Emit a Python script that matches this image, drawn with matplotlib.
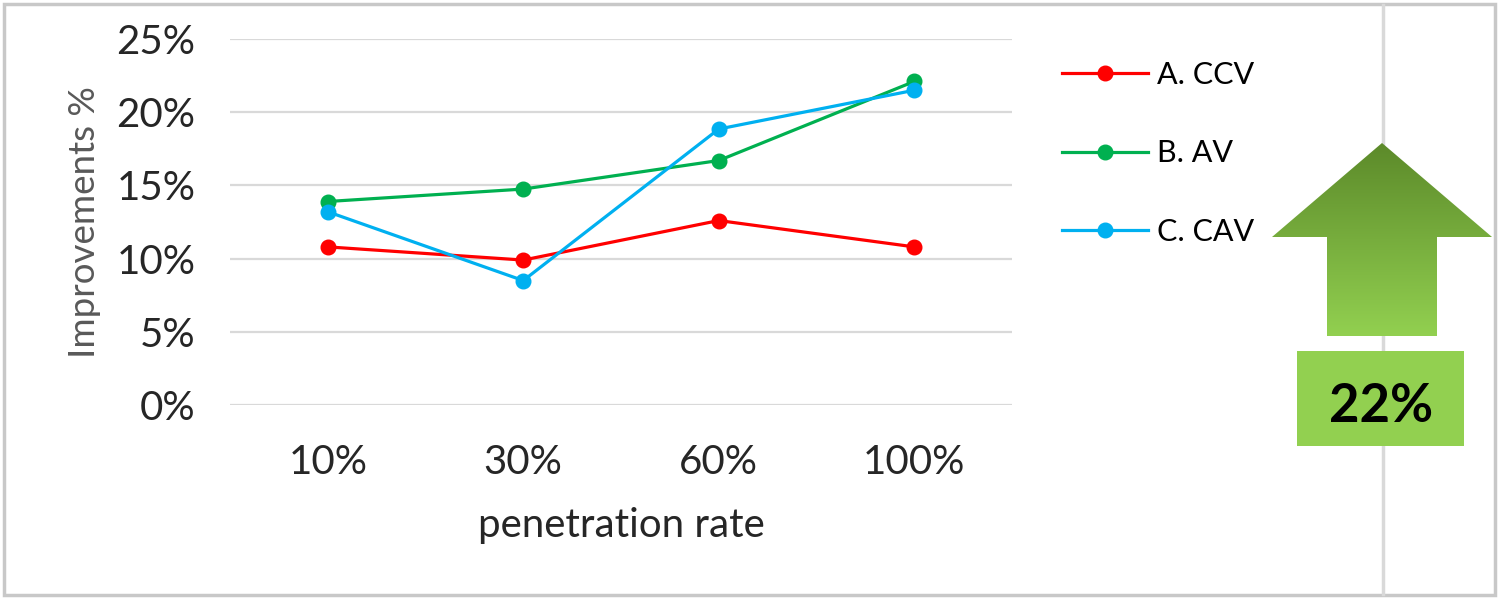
import numpy as np
import matplotlib
matplotlib.use("Agg")
import matplotlib.pyplot as plt
from matplotlib.patches import Polygon, Rectangle

# ------------------ DATA ------------------

rates     = ["10%", "30%", "60%", "100%"]
ccv       = [10.8, 9.9, 12.6, 10.8]
av        = [13.9, 14.75, 16.7, 22.1]
cav       = [13.2, 8.5, 18.85, 21.5]
series    = [("A. CCV", ccv, "#FF0000"),
             ("B. AV",  av,  "#00B050"),
             ("C. CAV", cav, "#00B0F0")]
y_ticks   = [0, 5, 10, 15, 20, 25]
best_gain = "22%"

# ------------------ FIGURE ------------------

W, H = 1499, 600
plt.rcParams["font.family"] = ["Lato", "DejaVu Sans"]

fig = plt.figure(figsize=(W / 100, H / 100), dpi=100)

# background layer in pixel coords for frame, divider and arrow
bg = fig.add_axes([0, 0, 1, 1])
bg.set_xlim(0, W)
bg.set_ylim(H, 0)
bg.axis("off")

bg.add_patch(Rectangle((4, 4), W - 8, H - 9, fill=False,
                       edgecolor="#C8C8C8", linewidth=2.5))
bg.plot([1383, 1383], [5, 594], color="#D9D9D9", linewidth=2.5)

# up arrow with vertical gradient
arrow_pts = [(1382, 143), (1492, 237), (1437, 237), (1437, 336),
             (1327, 336), (1327, 237), (1272, 237)]
arrow = Polygon(arrow_pts, closed=True, facecolor="none", edgecolor="none")
bg.add_patch(arrow)
top_c = np.array([0x5C, 0x8A, 0x2A]) / 255
bot_c = np.array([0x92, 0xD0, 0x50]) / 255
t = np.linspace(0, 1, 256)[:, None, None]
grad = top_c * (1 - t) + bot_c * t
grad = np.repeat(grad, 2, axis=1)
im = bg.imshow(grad, extent=(1272, 1492, 336, 143), aspect="auto",
               interpolation="bilinear", zorder=2)
im.set_clip_path(arrow)

bg.add_patch(Rectangle((1297, 351), 167, 95, facecolor="#92D050",
                       edgecolor="none", zorder=2))
bg.text(1381, 406, best_gain, fontsize=38, fontweight="bold",
        ha="center", va="center", color="black", zorder=3)

# ------------------ MAIN CHART ------------------

ax = fig.add_axes([230 / W, 1 - 405 / H, (1012 - 230) / W, (405 - 39) / H])
ax.patch.set_alpha(0)
x = np.arange(len(rates))
for label, vals, color in series:
    ax.plot(x, vals, color=color, linewidth=2.3, marker="o",
            markersize=10.5, label=label, zorder=3)

ax.set_xlim(-0.5, len(rates) - 0.5)
ax.set_ylim(0, 25)
ax.set_yticks(y_ticks)
ax.set_yticklabels([f"{v}%" for v in y_ticks])
ax.set_xticks(x)
ax.set_xticklabels(rates)
ax.grid(axis="y", color="#D9D9D9", linewidth=1.6)
ax.set_axisbelow(True)
for s in ax.spines.values():
    s.set_visible(False)
ax.tick_params(axis="both", length=0, labelsize=29, colors="#262626")
ax.tick_params(axis="y", pad=25)
ax.tick_params(axis="x", pad=28)

ax.set_ylabel("Improvements %", fontsize=26.5, color="#595959", labelpad=11)
ax.set_xlabel("penetration rate", fontsize=29, color="#262626", labelpad=19)

fig.legend(loc="upper left", bbox_to_anchor=(1062 / W, 1 - 61 / H),
           frameon=False, fontsize=22, labelspacing=1.65, handlelength=2.8,
           handletextpad=0.3, borderpad=0, borderaxespad=0)

fig.savefig("out.png", dpi=100)
